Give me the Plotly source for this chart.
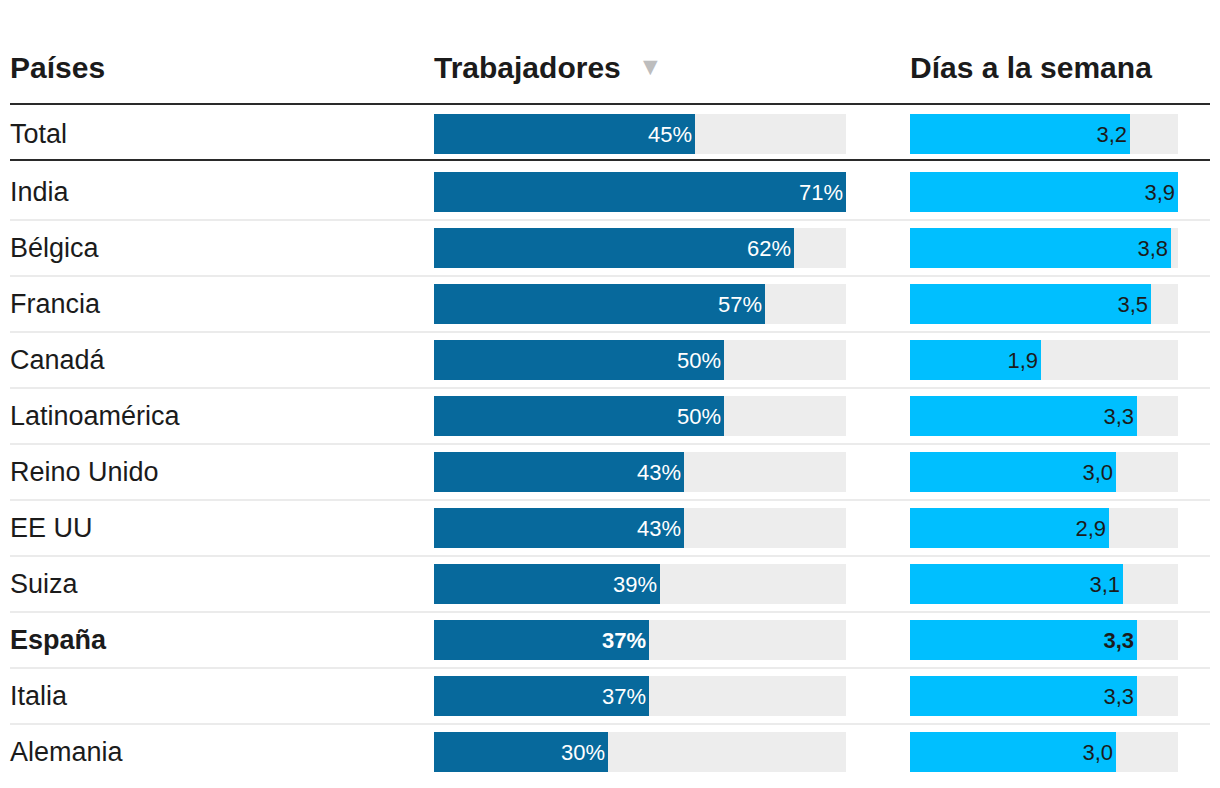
import plotly.graph_objects as go

countries = ["Total", "India", "Bélgica", "Francia", "Canadá", "Latinoamérica",
             "Reino Unido", "EE UU", "Suiza", "España", "Italia", "Alemania"]
workers = [45, 71, 62, 57, 50, 50, 43, 43, 39, 37, 37, 30]
days = [3.2, 3.9, 3.8, 3.5, 1.9, 3.3, 3.0, 2.9, 3.1, 3.3, 3.3, 3.0]
highlight = "España"
headers = ["Países", "Trabajadores", "Días a la semana"]

W, H = 1212, 780   # page body has an 8px margin
OFF = 8
FONT = "Liberation Sans, Arial, sans-serif"
DARK = "#07699c"
LIGHT = "#00bfff"
TRACK = "#ededed"
INK = "#1b1b1b"

def px(x):
    return (x - OFF) / W

def py(y):
    return 1 - (y - OFF) / H

# row positions: the "Total" row sits slightly further above the country rows
TOTAL_GAP = 2 / 56
rows = [0.0] + [i + TOTAL_GAP for i in range(1, len(countries))]
bold = [c == highlight for c in countries]

def wrap(s, b):
    return f"<b>{s}</b>" if b else s

w_text = [wrap(f"{v}%", b) for v, b in zip(workers, bold)]
d_text = [wrap(f"{v:.1f}".replace(".", ","), b) for v, b in zip(days, bold)]

fig = go.Figure()
bw = 40 / 56
fig.add_trace(go.Bar(y=rows, x=[max(workers)] * len(rows), orientation="h",
                     marker=dict(color=TRACK, line=dict(width=0)), width=bw,
                     hoverinfo="skip", xaxis="x", yaxis="y"))
fig.add_trace(go.Bar(y=rows, x=workers, orientation="h", text=w_text,
                     textposition="inside", insidetextanchor="end", textangle=0,
                     constraintext="none",
                     textfont=dict(family=FONT, size=22, color="white"),
                     marker=dict(color=DARK, line=dict(width=0)), width=bw,
                     xaxis="x", yaxis="y"))
fig.add_trace(go.Bar(y=rows, x=[max(days)] * len(rows), orientation="h",
                     marker=dict(color=TRACK, line=dict(width=0)), width=bw,
                     hoverinfo="skip", xaxis="x2", yaxis="y"))
fig.add_trace(go.Bar(y=rows, x=days, orientation="h", text=d_text,
                     textposition="inside", insidetextanchor="end", textangle=0,
                     constraintext="none",
                     textfont=dict(family=FONT, size=22, color=INK),
                     marker=dict(color=LIGHT, line=dict(width=0)), width=bw,
                     xaxis="x2", yaxis="y"))

# y mapping: India row centre at 192px on the page, row pitch 56px
c1 = 192 - OFF
r1 = rows[1]
top = r1 - c1 / 56
bottom = r1 + (H - c1) / 56

shapes = []
for i in range(1, len(countries) - 1):
    yy = (rows[i] + rows[i + 1]) / 2
    shapes.append(dict(type="line", xref="paper", yref="y", x0=px(10), x1=px(1210),
                       y0=yy, y1=yy, line=dict(color="#ebebeb", width=2)))
for yy in (104, 160):
    shapes.append(dict(type="line", xref="paper", yref="paper", x0=px(10), x1=px(1210),
                       y0=py(yy), y1=py(yy), line=dict(color="#2a2a2a", width=2)))

ann = []
for r, c, b in zip(rows, countries, bold):
    ann.append(dict(x=px(8), y=r, xref="paper", yref="y", text=wrap(c, b),
                    xanchor="left", yanchor="middle", showarrow=False,
                    font=dict(family=FONT, size=27, color=INK)))
for hx, h in zip((8, 432, 908), headers):
    ann.append(dict(x=px(hx), y=py(68), xref="paper", yref="paper",
                    text=f"<b>{h}</b>", xanchor="left", yanchor="middle",
                    showarrow=False, font=dict(family=FONT, size=30, color=INK)))
ann.append(dict(x=px(650), y=py(66), xref="paper", yref="paper", text="▼",
                xanchor="center", yanchor="middle", showarrow=False,
                font=dict(family="DejaVu Sans", size=19, color="#bdbdbd")))

fig.update_layout(
    width=W, height=H, margin=dict(l=0, r=0, t=0, b=0),
    paper_bgcolor="white", plot_bgcolor="white",
    barmode="overlay", showlegend=False, bargap=0,
    xaxis=dict(domain=[px(434), px(846)], range=[0, max(workers)], visible=False, fixedrange=True),
    xaxis2=dict(domain=[px(910), px(1178)], range=[0, max(days)], visible=False,
                anchor="y", fixedrange=True),
    yaxis=dict(domain=[0, 1], range=[bottom, top], visible=False, fixedrange=True),
    shapes=shapes, annotations=ann,
    font=dict(family=FONT, color=INK),
)
fig.write_html("out.html")
